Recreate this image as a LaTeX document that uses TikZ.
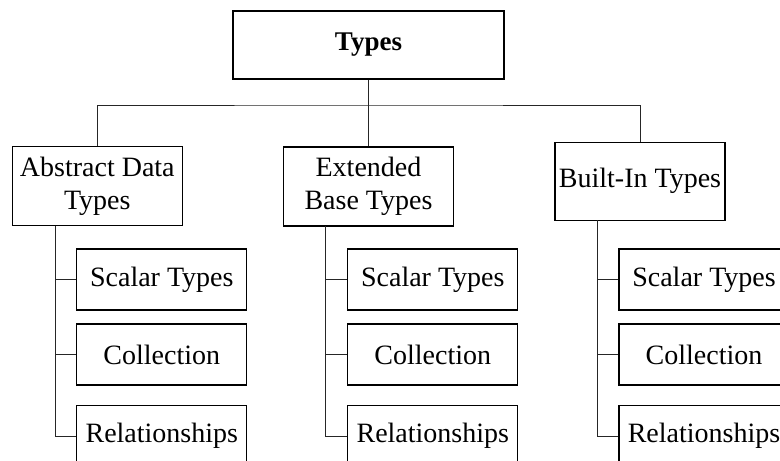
\documentclass[tikz,border=0pt]{standalone}
\usepackage{fontspec}
\setmainfont{Liberation Serif}
\begin{document}
\begin{tikzpicture}[x=1pt,y=-1pt,
  box/.style={draw=black,line width=1.3pt,minimum width=170pt,inner sep=0pt,
    align=center,font=\fontsize{28}{33}\selectfont},
  link/.style={draw=black!85,line width=0.9pt}]
\useasboundingbox (0,0) rectangle (780,461);
% root and the three families
\node[box,minimum width=271pt,minimum height=68pt,font=\fontsize{27}{33}\selectfont\bfseries] (root) at (368.5,45) {Types};
\node[box,minimum height=79pt] (adt) at (97.3,186) {Abstract Data\\Types};
\node[box,minimum height=79pt] (ext) at (368.5,186.5) {Extended\\Base Types};
\node[box,minimum height=78pt] (bit) at (640,181.3) {Built-In Types};
% member boxes
\foreach \col/\cx in {a/161.8, b/432.8, c/704} {
  \node[box,minimum height=61pt] (\col1) at (\cx,279.5) {Scalar Types};
  \node[box,minimum height=61pt] (\col2) at (\cx,354.5) {Collection};
  \node[box,minimum height=61pt] (\col3) at (\cx,436.2) {Relationships};
}
% connectors between levels
\coordinate (bus) at (368.5,105);
\draw[link] (root.south) -- (ext.north);
\draw[link] (adt.north) |- (bus) -| (bit.north);
% stems from each family to its members
\coordinate (sa) at (55,225.7);
\coordinate (sb) at (325.7,226);
\coordinate (sc) at (597.7,220.3);
\foreach \s/\col in {sa/a, sb/b, sc/c} {
  \draw[link] (\s) |- (\col3.west);
  \draw[link] (\s |- \col1.west) -- (\col1.west);
  \draw[link] (\s |- \col2.west) -- (\col2.west);
}
\end{tikzpicture}
\end{document}
